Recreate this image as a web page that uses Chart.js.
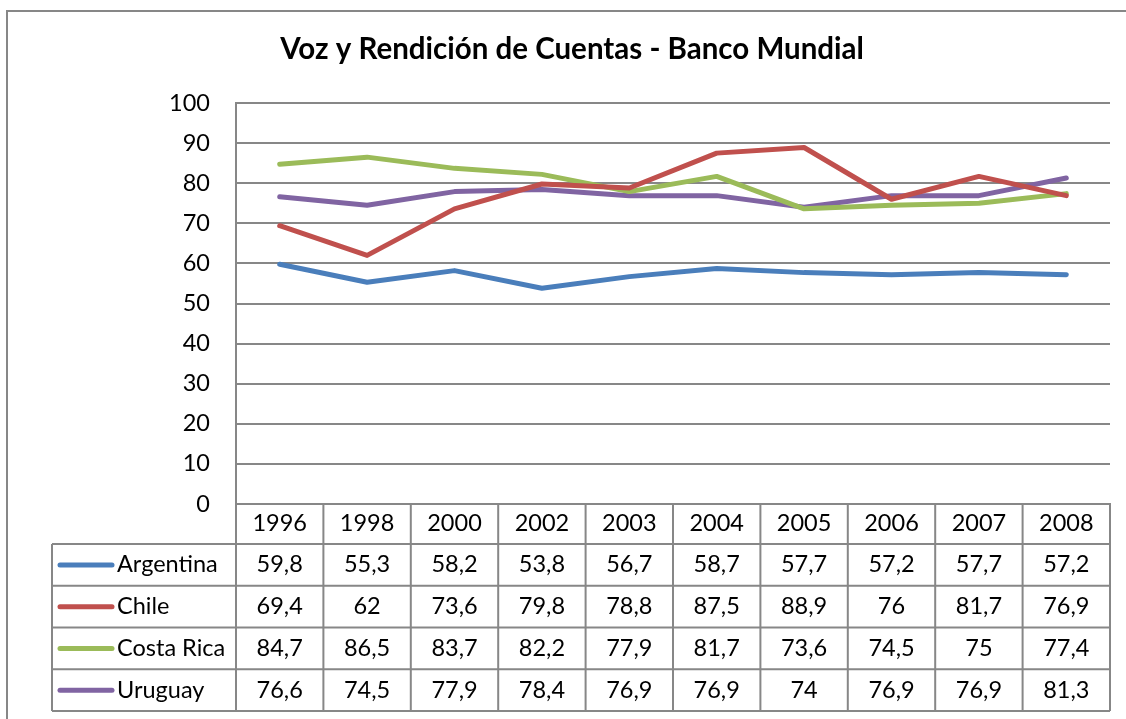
<!DOCTYPE html>
<html>
<head>
<meta charset="utf-8">
<script src="https://cdn.jsdelivr.net/npm/chart.js@4.4.0/dist/chart.umd.min.js"></script>
<style>
  html, body { margin: 0; padding: 0; background: #fff; }
  #wrap { width: 1126px; height: 719px; }
</style>
</head>
<body>
<div id="wrap"><canvas id="chart" width="1126" height="719"></canvas></div>
<script>
// Voz y Rendición de Cuentas — line chart with Excel-style data table

const years     = ['1996', '1998', '2000', '2002', '2003', '2004', '2005', '2006', '2007', '2008'];
const argentina = [59.8, 55.3, 58.2, 53.8, 56.7, 58.7, 57.7, 57.2, 57.7, 57.2];
const chile     = [69.4, 62, 73.6, 79.8, 78.8, 87.5, 88.9, 76, 81.7, 76.9];
const costaRica = [84.7, 86.5, 83.7, 82.2, 77.9, 81.7, 73.6, 74.5, 75, 77.4];
const uruguay   = [76.6, 74.5, 77.9, 78.4, 76.9, 76.9, 74, 76.9, 76.9, 81.3];

const seriesNames  = ['Argentina', 'Chile', 'Costa Rica', 'Uruguay'];
const seriesValues = [argentina, chile, costaRica, uruguay];
const seriesColors = ['#4a7ebb', '#c0504d', '#9bbb59', '#8064a2'];

const GRID = '#878787';
const FONT = 'Lato';
const FONT_SIZE = 23.5;

const fmt = v => String(v).replace('.', ',');

// white background + the chart frame (left and top edges)
const frame = {
  id: 'frame',
  beforeDraw(chart) {
    const { ctx, width, height } = chart;
    ctx.save();
    ctx.fillStyle = '#fff';
    ctx.fillRect(0, 0, width, height);
    ctx.strokeStyle = GRID;
    ctx.lineWidth = 2;
    ctx.beginPath();
    ctx.moveTo(7, height);
    ctx.lineTo(7, 11);
    ctx.lineTo(width, 11);
    ctx.stroke();
    ctx.restore();
  }
};

// data table under the x axis, columns follow the category scale
const dataTable = {
  id: 'dataTable',
  afterDraw(chart) {
    const { ctx, chartArea: a, scales: { x } } = chart;
    const colW = (a.right - a.left) / years.length;
    const rowTop = a.bottom + 40;
    const rowH = 41.75;
    const tableLeft = 52;
    const bottom = rowTop + rowH * seriesNames.length;

    ctx.save();
    ctx.strokeStyle = GRID;
    ctx.lineWidth = 2;
    ctx.beginPath();
    for (let r = 0; r <= seriesNames.length; r++) {
      const y = rowTop + r * rowH;
      ctx.moveTo(tableLeft, y);
      ctx.lineTo(a.right, y);
    }
    ctx.moveTo(tableLeft, rowTop);
    ctx.lineTo(tableLeft, bottom);
    for (let i = 0; i <= years.length; i++) {
      const px = a.left + i * colW;
      ctx.moveTo(px, a.bottom);
      ctx.lineTo(px, bottom);
    }
    ctx.stroke();

    ctx.font = `${FONT_SIZE}px ${FONT}`;
    ctx.fillStyle = '#000';
    ctx.textBaseline = 'middle';
    seriesNames.forEach((name, r) => {
      const cy = rowTop + r * rowH + rowH / 2;
      ctx.strokeStyle = seriesColors[r];
      ctx.lineWidth = 5;
      ctx.lineCap = 'round';
      ctx.beginPath();
      ctx.moveTo(60, cy);
      ctx.lineTo(112, cy);
      ctx.stroke();

      ctx.textAlign = 'left';
      ctx.fillText(name, 117, cy);

      ctx.textAlign = 'center';
      seriesValues[r].forEach((v, i) => {
        ctx.fillText(fmt(v), x.getPixelForValue(i), cy);
      });
    });
    ctx.restore();
  }
};

Chart.defaults.color = '#000';
Chart.defaults.font.family = FONT;
Chart.defaults.font.size = FONT_SIZE;

const datasets = seriesNames.map((name, i) => ({
  label: name,
  data: seriesValues[i],
  borderColor: seriesColors[i],
  backgroundColor: seriesColors[i],
  borderWidth: 5,
  pointRadius: 0,
  tension: 0,
  borderJoinStyle: 'round',
  borderCapStyle: 'round',
}));

new Chart(document.getElementById('chart'), {
  type: 'line',
  data: { labels: years, datasets },
  options: {
    responsive: false,
    animation: false,
    layout: { padding: { left: 34, right: 16, top: 0, bottom: 8 } },
    plugins: {
      legend: { display: false },
      tooltip: { enabled: false },
      title: {
        display: true,
        text: 'Voz y Rendición de Cuentas - Banco Mundial',
        color: '#000',
        font: { family: FONT, size: 29.5, weight: 'bold', lineHeight: 1.2 },
        padding: { top: 32, bottom: 35.6 },
      },
    },
    scales: {
      x: {
        offset: true,
        grid: { display: false, drawTicks: false },
        border: { display: true, color: GRID, width: 2 },
        ticks: { padding: 5, maxRotation: 0, autoSkip: false },
        afterFit: scale => { scale.height = 207; },
      },
      y: {
        min: 0,
        max: 100,
        ticks: { stepSize: 10, padding: 26 },
        grid: { color: GRID, lineWidth: 2, drawTicks: false },
        border: { display: true, color: GRID, width: 2 },
        afterFit: scale => { scale.width = 202; },
      },
    },
  },
  plugins: [frame, dataTable],
});
</script>
</body>
</html>
